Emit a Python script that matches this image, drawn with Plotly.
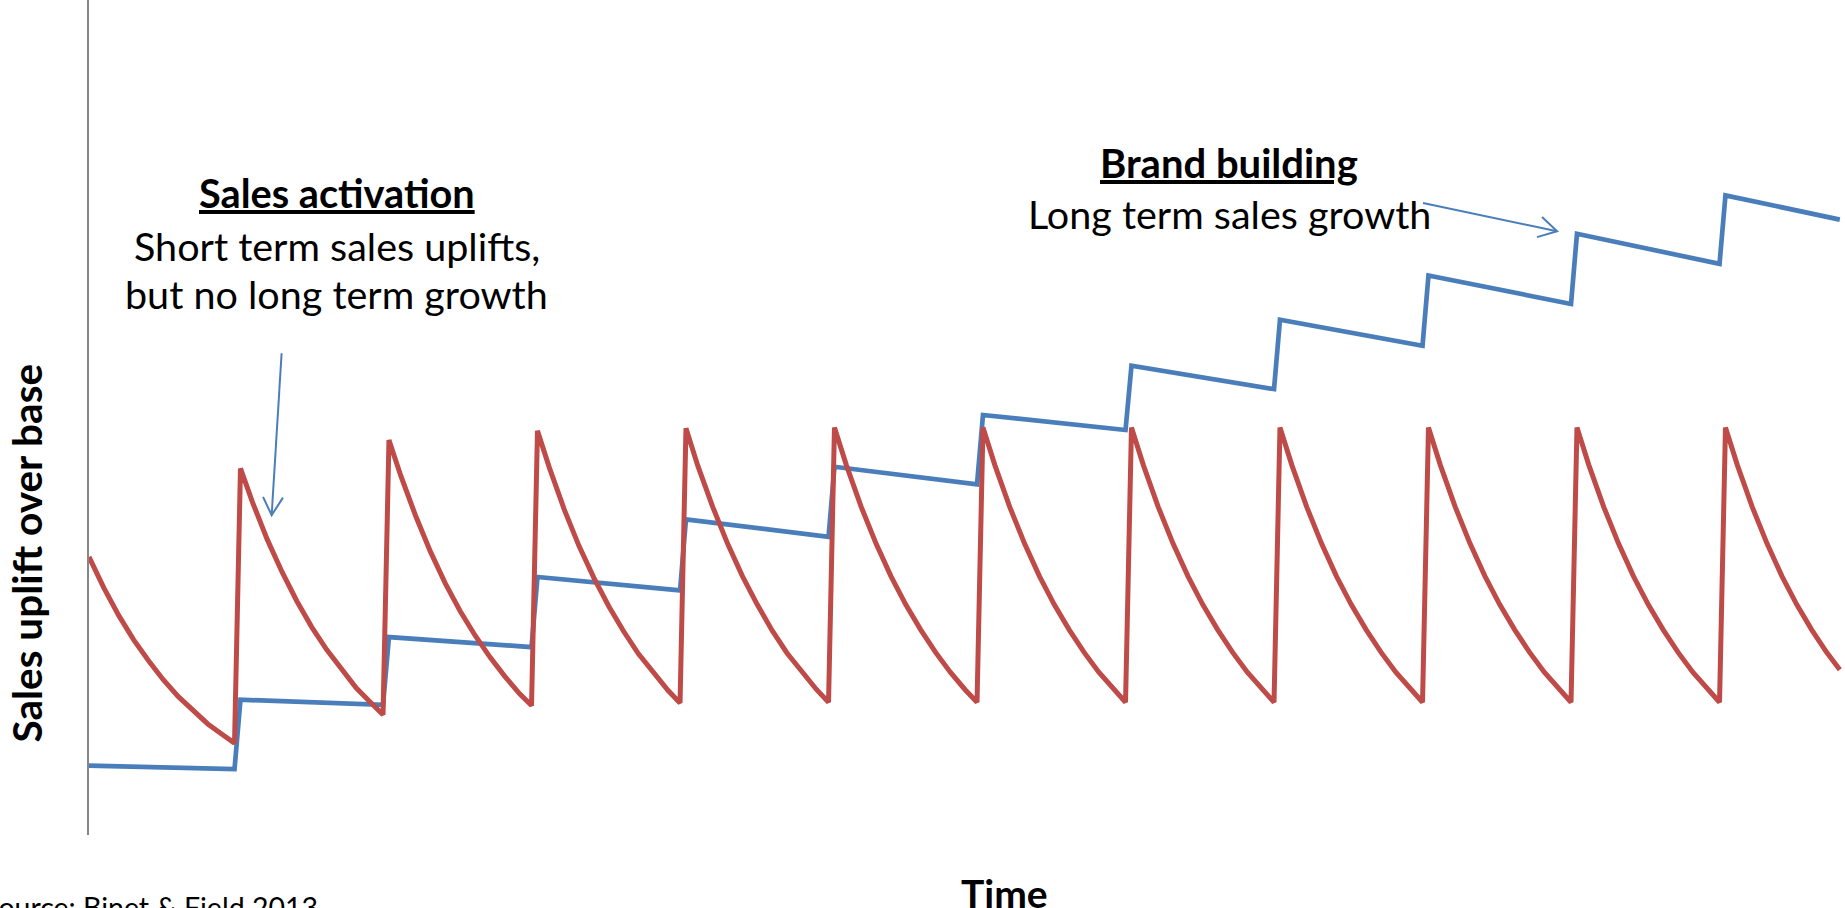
import plotly.graph_objects as go

# ---------------------------------------------------------------------------
# Data: time is measured in campaign cycles; a new burst lands at every
# whole cycle. Uplift is on an index where 0 is the foot of the axis.
# ---------------------------------------------------------------------------

# sampling points inside one cycle (burst peak just after the cycle start,
# trough just before the next burst)
cycle_offsets = [0.02, 0.1, 0.2, 0.3, 0.4, 0.5, 0.6, 0.7, 0.8, 0.9, 0.98]

# Sales activation: short-lived spikes that decay back towards the base
red_uplift = [
    33.3, 29.6, 26.3, 23.4, 20.9, 18.6, 16.6, 14.9, 13.3, 12.0, 11.0,   # cycle 0
    43.9, 39.9, 35.4, 31.5, 28.0, 24.9, 22.2, 19.8, 17.6, 15.8, 14.4,   # cycle 1
    47.3, 43.0, 38.2, 33.9, 30.1, 26.8, 23.9, 21.3, 19.0, 16.9, 15.5,   # cycle 2
    48.4, 44.0, 39.0, 34.6, 30.8, 27.4, 24.4, 21.7, 19.4, 17.3, 15.8,   # cycle 3
    48.7, 44.2, 39.3, 34.9, 31.0, 27.6, 24.5, 21.8, 19.5, 17.4, 15.9,   # cycle 4
    48.8, 44.3, 39.3, 34.9, 31.0, 27.6, 24.6, 21.9, 19.5, 17.4, 15.9,   # cycle 5
    48.8, 44.3, 39.3, 34.9, 31.0, 27.6, 24.6, 21.9, 19.5, 17.4, 15.9,   # cycle 6
    48.8, 44.3, 39.3, 34.9, 31.0, 27.6, 24.6, 21.9, 19.5, 17.4, 15.9,   # cycle 7
    48.8, 44.3, 39.3, 34.9, 31.0, 27.6, 24.6, 21.9, 19.5, 17.4, 15.9,   # cycle 8
    48.8, 44.3, 39.3, 34.9, 31.0, 27.6, 24.6, 21.9, 19.5, 17.4, 15.9,   # cycle 9
    48.8, 44.3, 39.3, 34.9, 31.0, 27.6, 24.6, 21.9, 19.5, 17.4, 15.9,   # cycle 10
    48.8, 44.3, 39.3, 34.9, 31.0, 27.6, 24.6, 21.9, 19.8,               # cycle 11
]

red_time = [0.0] + cycle_offsets[1:]
for k in range(1, 11):
    red_time += [round(k + o, 3) for o in cycle_offsets]
red_time += [round(11 + o, 3) for o in cycle_offsets[:8]] + [11.79]

# Brand building: each burst lifts the base, with a slow drift between bursts
blue_time = [0.0, 0.98, 1.02, 1.98, 2.02, 2.98, 3.02, 3.98, 4.02, 4.98,
             5.02, 5.98, 6.02, 6.98, 7.02, 7.98, 8.02, 8.98, 9.02, 9.98,
             10.02, 10.98, 11.02, 11.79]
blue_uplift = [8.3, 7.9, 16.2, 15.6, 23.7, 22.5, 30.9, 29.3, 37.8, 35.7,
               44.1, 42.0, 50.3, 48.5, 56.2, 53.4, 61.7, 58.6, 67.0, 63.6,
               72.0, 68.4, 76.6, 73.7]

# ---------------------------------------------------------------------------
BLUE = "#4A7EBB"
RED = "#BE4B48"
AXIS_GREY = "#868686"
FONT = "Lato"

W, H = 1845, 908
M_LEFT, M_BOTTOM = 89, 73
PLOT_W, PLOT_H = W - M_LEFT, H - M_BOTTOM


def paper_x(px):
    return (px - M_LEFT) / PLOT_W


def paper_y(py):
    return (PLOT_H - py) / PLOT_H


fig = go.Figure()
fig.add_trace(go.Scatter(x=blue_time, y=blue_uplift, mode="lines",
                         line=dict(color=BLUE, width=4.7), hoverinfo="skip"))
fig.add_trace(go.Scatter(x=red_time, y=red_uplift, mode="lines",
                         line=dict(color=RED, width=5), hoverinfo="skip"))


def text_note(text, px, py, size, anchor="center", angle=0):
    return dict(text=text, x=paper_x(px), y=paper_y(py), xref="paper",
                yref="paper", xanchor=anchor, yanchor="middle",
                showarrow=False, textangle=angle,
                font=dict(family=FONT, size=size, color="black"))


annotations = [
    text_note("<b><u>Sales activation</u></b>", 336.5, 192.5, 39.7),
    text_note("Short term sales uplifts,", 336.5, 245.5, 39.5),
    text_note("but no long term growth", 336.5, 293.5, 39.5),
    text_note("<b><u>Brand building</u></b>", 1228.5, 163.5, 40),
    text_note("Long term sales growth", 1229, 213.5, 39.5),
    text_note("<b>Time</b>", 1004.5, 892.5, 39),
    text_note("<b>Sales uplift over base</b>", 25.5, 553, 40.5, angle=-90),
    text_note("Source: Binet & Field 2013", -19, 907, 28.5, anchor="left"),
]


def open_arrow(x0, y0, x1, y1, wing_a, wing_b):
    """Thin arrow in data units with an open V head at (x1, y1)."""
    style = dict(color=BLUE, width=2)
    return [
        dict(type="line", xref="x", yref="y", x0=x0, y0=y0, x1=x1, y1=y1,
             line=style),
        dict(type="path", xref="x", yref="y", line=style,
             path=f"M {wing_a[0]} {wing_a[1]} L {x1} {y1} L {wing_b[0]} {wing_b[1]}"),
    ]


shapes = []
shapes += open_arrow(1.297, 57.7, 1.230, 38.3, (1.172, 40.5), (1.306, 40.4))
shapes += open_arrow(8.983, 75.7, 9.886, 72.3, (9.785, 74.0), (9.751, 71.6))

fig.update_layout(
    width=W, height=H,
    margin=dict(l=M_LEFT, r=0, t=0, b=M_BOTTOM, pad=0),
    paper_bgcolor="white", plot_bgcolor="white",
    showlegend=False,
    xaxis=dict(range=[0, PLOT_W / 148.5], showline=False, showgrid=False,
               zeroline=False, showticklabels=False, ticks=""),
    yaxis=dict(range=[0, 100], showline=True, linecolor=AXIS_GREY,
               linewidth=1.5, showgrid=False, zeroline=False,
               showticklabels=False, ticks=""),
    annotations=annotations,
    shapes=shapes,
)

fig.write_html("out.html", config={"displayModeBar": False})
